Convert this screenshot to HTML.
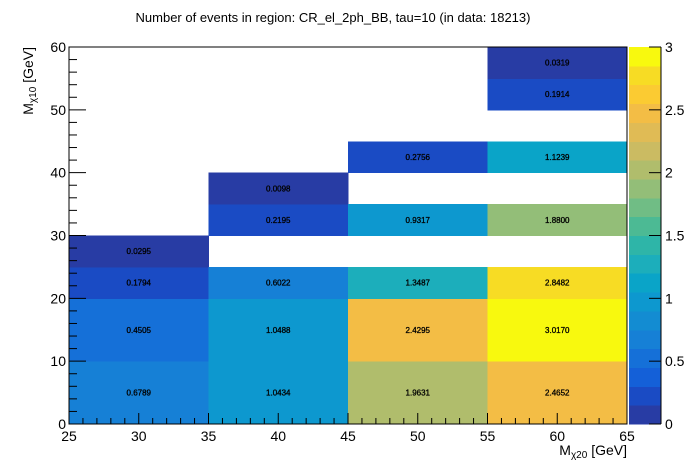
<!DOCTYPE html>
<html><head><meta charset="utf-8"><style>
html,body{margin:0;padding:0;background:#fff;}
svg{display:block;font-family:"Liberation Sans",sans-serif;}
</style></head><body>
<svg id="c" width="696" height="472" viewBox="0 0 696 472" xmlns="http://www.w3.org/2000/svg">
<text x="333" y="22" font-size="13" text-anchor="middle">Number of events in region: CR_el_2ph_BB, tau=10 (in data: 18213)</text>
<g id="cells"></g>
<g id="axes"></g>
<g id="cbar"></g>
<text x="627" y="455" font-size="14" text-anchor="end">M<tspan font-size="10" dy="3">χ20</tspan><tspan dy="-3"> [GeV]</tspan></text>
<text transform="translate(33,47) rotate(-90)" font-size="14" text-anchor="end">M<tspan font-size="10" dy="3">χ10</tspan><tspan dy="-3"> [GeV]</tspan></text>
</svg>
<script>
const xLo=[25,25,25,25, 35,35,35,35,35, 45,45,45,45,45, 55,55,55,55,55,55,55];
const xHi=[35,35,35,35, 45,45,45,45,45, 55,55,55,55,55, 65,65,65,65,65,65,65];
const yLo=[0,10,20,25, 0,10,20,30,35, 0,10,20,30,40, 0,10,20,30,40,50,55];
const yHi=[10,20,25,30, 10,20,25,35,40, 10,20,25,35,45, 10,20,25,35,45,55,60];
const vals=[0.6789,0.4505,0.1794,0.0295, 1.0434,1.0488,0.6022,0.2195,0.0098, 1.9631,2.4295,1.3487,0.9317,0.2756, 2.4652,3.0170,2.8482,1.8800,1.1239,0.1914,0.0319];
const xTicks=[25,30,35,40,45,50,55,60,65];
const yTicks=[0,10,20,30,40,50,60];
const zTicks=[0,0.5,1,1.5,2,2.5,3];
const palette=["#283ca4","#1a4bc4","#1460d8","#1570d8","#1680d6","#138cd2","#0d98cf","#0aa4c8","#1caebb","#2eb5a8","#4cba94","#70bd85","#93be78","#b0bd6c","#cbbb62","#e0bb55","#f3bd45","#fbcb32","#f7dc24","#f8f90e"];
const X0=69,X1=627,Y0=424,Y1=47,XMIN=25,XMAX=65,YMIN=0,YMAX=60,ZMAX=3;
const sx=v=>X0+(v-XMIN)/(XMAX-XMIN)*(X1-X0);
const sy=v=>Y0-(v-YMIN)/(YMAX-YMIN)*(Y0-Y1);
const CB0=629,CB1=661;
const sz=v=>Y0-v/ZMAX*(Y0-Y1);
const NS="http://www.w3.org/2000/svg";
function mk(p,t,a){const e=document.createElementNS(NS,t);for(const k in a)e.setAttribute(k,a[k]);p.appendChild(e);return e;}
function col(v){let i=Math.floor(v/ZMAX*palette.length);if(i>=palette.length)i=palette.length-1;if(i<0)i=0;return palette[i];}
const cells=document.getElementById('cells');
for(let i=0;i<vals.length;i++){
  const x=sx(xLo[i]),y=sy(yHi[i]),w=sx(xHi[i])-x,h=sy(yLo[i])-y;
  const r=mk(cells,'rect',{x:x,y:y,width:w+0.5,height:h+0.5,fill:col(vals[i]),'shape-rendering':'crispEdges'});
  
  
  const t=mk(cells,'text',{x:x+w/2,y:y+h/2+3,'font-size':'8','text-anchor':'middle',fill:'#000',stroke:'#000','stroke-width':'0.3'});
  t.textContent=vals[i].toFixed(4);
  
  
}
const ax=document.getElementById('axes');
mk(ax,'rect',{x:X0,y:Y1,width:X1-X0,height:Y0-Y1,fill:'none',stroke:'#000','stroke-width':1});
for(let v=XMIN;v<=XMAX;v+=1){const x=sx(v);const major=v%5===0;mk(ax,'line',{x1:x,x2:x,y1:Y0,y2:Y0-(major?11:6),stroke:'#000'});}
xTicks.forEach(v=>{const t=mk(ax,'text',{x:sx(v),y:Y0+17,'font-size':'14','text-anchor':'middle'});t.textContent=v;
  
  });
for(let v=YMIN;v<=YMAX;v+=2){const y=sy(v);const major=v%10===0;mk(ax,'line',{x1:X0,x2:X0+(major?17:8),y1:y,y2:y,stroke:'#000'});}
yTicks.forEach(v=>{const t=mk(ax,'text',{x:X0-3,y:sy(v)+5,'font-size':'14','text-anchor':'end'});t.textContent=v;
  
  });
const cb=document.getElementById('cbar');
palette.forEach((c,i)=>{const z0=i*ZMAX/palette.length,z1=(i+1)*ZMAX/palette.length;mk(cb,'rect',{x:CB0,y:sz(z1),width:CB1-CB0,height:sz(z0)-sz(z1)+0.5,fill:c,'shape-rendering':'crispEdges'});});
mk(cb,'line',{x1:CB1,x2:CB1,y1:Y1,y2:Y0,stroke:'#000'});
zTicks.forEach(v=>{const y=sz(v);mk(cb,'line',{x1:CB1-12,x2:CB1,y1:y,y2:y,stroke:'#000'});
  const t=mk(cb,'text',{x:CB1+4,y:y+5,'font-size':'14'});t.textContent=v;
  
  });
</script>
</body></html>
